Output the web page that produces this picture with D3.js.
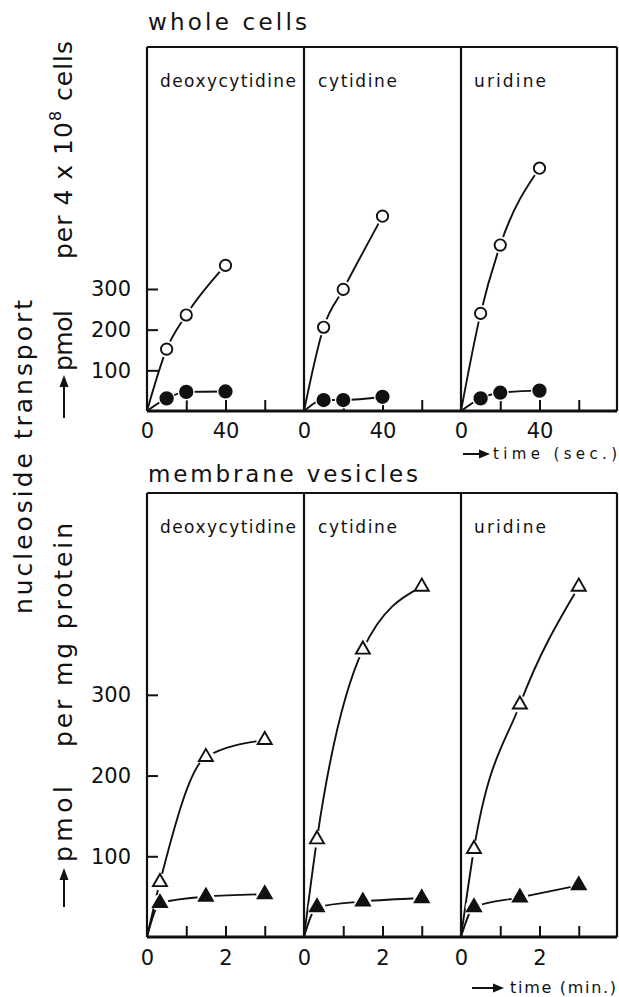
<!DOCTYPE html>
<html>
  <head>
    <style>
      body { margin: 0; background: #fff; }
      text { font-family: "DejaVu Sans", sans-serif; fill: #111; }
    </style>
  </head>
  <body>
    <svg id="chart" width="619" height="997"></svg>

    <script src="https://cdnjs.cloudflare.com/ajax/libs/d3/7.8.5/d3.min.js"></script>
    <script>
      // data
      var nucleosides = ["deoxycytidine", "cytidine", "uridine"];

      var cellTimes = [10, 20, 40]; // sec
      var cellOpen = [
        [152, 236, 358],
        [206, 299, 479],
        [240, 408, 597]
      ];
      var cellFilled = [
        [31, 47, 48],
        [27, 27, 35],
        [31, 45, 50]
      ];

      var vesTimes = [0.33, 1.5, 3]; // min
      var vesOpen = [
        [68, 223, 244],
        [121, 356, 434],
        [109, 288, 434]
      ];
      var vesFilled = [
        [42, 50, 53],
        [37, 44, 48],
        [37, 49, 64]
      ];

      var yTicks = [100, 200, 300];
      var cellXTicks = [0, 20, 40, 60];
      var cellXLabels = [0, 40];
      var vesXTicks = [0, 1, 2, 3];
      var vesXLabels = [0, 2];

      var svg = d3.select("#chart");
      var panelX = [147, 304, 461],
        panelW = 157,
        right = 617;

      var blocks = [
        {
          title: "whole cells", titleY: 30, titleLen: 159,
          y: d3.scaleLinear().domain([0, 895]).range([411, 47]),
          x: d3.scaleLinear().domain([0, 80]).range([0, panelW]),
          times: cellTimes, open: cellOpen, filled: cellFilled,
          xTicks: cellXTicks, xLabels: cellXLabels,
          labelY: 87, labelPad: 12, shape: "circle"
        },
        {
          title: "membrane vesicles", titleY: 482, titleLen: 270,
          y: d3.scaleLinear().domain([0, 550]).range([937, 493]),
          x: d3.scaleLinear().domain([0, 4]).range([0, panelW]),
          times: vesTimes, open: vesOpen, filled: vesFilled,
          xTicks: vesXTicks, xLabels: vesXLabels,
          labelY: 533, labelPad: 13, shape: "triangle"
        }
      ];

      var labelLen = [136, 79, 72];
      var labelOff = [13, 14, 13];

      blocks.forEach(function (b) {
        var y0 = b.y.range()[0],
          y1 = b.y.range()[1];

        svg.append("text")
          .attr("x", 148).attr("y", b.titleY)
          .attr("font-size", 23)
          .attr("textLength", b.titleLen)
          .attr("lengthAdjust", "spacing")
          .text(b.title);

        // frame
        svg.append("path")
          .attr("d", "M" + panelX[0] + "," + y1 + "H" + right)
          .attr("stroke", "#111").attr("stroke-width", 2).attr("fill", "none");
        panelX.concat([right]).forEach(function (px) {
          svg.append("line")
            .attr("x1", px).attr("x2", px).attr("y1", y1).attr("y2", y0)
            .attr("stroke", "#111").attr("stroke-width", 2.2);
        });
        svg.append("line")
          .attr("x1", panelX[0]).attr("x2", right).attr("y1", y0).attr("y2", y0)
          .attr("stroke", "#111").attr("stroke-width", 2.8);

        // y axis on first panel
        var yAxis = d3.axisLeft(b.y).tickValues(yTicks)
          .tickSizeInner(-11).tickSizeOuter(0).tickPadding(16);
        var gy = svg.append("g")
          .attr("transform", "translate(" + panelX[0] + ",0)")
          .call(yAxis);
        gy.select(".domain").remove();
        gy.selectAll("line").attr("stroke", "#111").attr("stroke-width", 2);
        gy.selectAll("text").attr("font-size", 21).attr("fill", "#111")
          .attr("font-family", "DejaVu Sans, sans-serif");

        nucleosides.forEach(function (name, i) {
          var g = svg.append("g")
            .attr("transform", "translate(" + panelX[i] + ",0)");

          var xAxis = d3.axisBottom(b.x).tickValues(b.xTicks)
            .tickSizeInner(-11).tickSizeOuter(0).tickPadding(b.labelPad)
            .tickFormat(function (d) {
              return b.xLabels.indexOf(d) >= 0 ? d : "";
            });
          var gx = g.append("g")
            .attr("transform", "translate(0," + y0 + ")")
            .call(xAxis);
          gx.select(".domain").remove();
          gx.selectAll("line").attr("stroke", "#111").attr("stroke-width", 2)
            .filter(function (d) { return d === 0; }).remove();
          gx.selectAll("text").attr("font-size", 21).attr("fill", "#111")
            .attr("font-family", "DejaVu Sans, sans-serif");

          g.append("text")
            .attr("x", labelOff[i]).attr("y", b.labelY)
            .attr("font-size", 17)
            .attr("textLength", labelLen[i])
            .attr("lengthAdjust", "spacing")
            .text(name);

          var line = d3.line()
            .x(function (d) { return b.x(d[0]); })
            .y(function (d) { return b.y(d[1]); })
            .curve(d3.curveMonotoneX);

          [
            { vals: b.open[i], filled: false },
            { vals: b.filled[i], filled: true }
          ].forEach(function (s) {
            var pts = [[0, 0]].concat(b.times.map(function (t, k) {
              return [t, s.vals[k]];
            }));
            g.append("path")
              .attr("d", line(pts))
              .attr("fill", "none")
              .attr("stroke", "#111")
              .attr("stroke-width", 1.9);

            var sym = d3.symbol()
              .type(b.shape === "circle" ? d3.symbolCircle : d3.symbolTriangle);

            var m = g.selectAll(null)
              .data(pts.slice(1))
              .enter()
              .append("g")
              .attr("transform", function (d) {
                return "translate(" + b.x(d[0]) + "," + b.y(d[1]) + ")";
              });
            m.append("circle")
              .attr("r", 8.5)
              .attr("fill", "#fff");
            m.append("path")
              .attr("d", sym.size(b.shape === "circle" ? (s.filled ? 120 : 100) : 85)())
              .attr("fill", s.filled ? "#111" : "#fff")
              .attr("stroke", "#111")
              .attr("stroke-width", 1.9);
          });
        });
      });

      // time labels with arrows
      function arrow(x1, x2, y) {
        svg.append("line")
          .attr("x1", x1).attr("x2", x2 - 8).attr("y1", y).attr("y2", y)
          .attr("stroke", "#111").attr("stroke-width", 2);
        svg.append("path")
          .attr("d", "M" + x2 + "," + y + "L" + (x2 - 11) + "," + (y - 4.5) + "L" + (x2 - 11) + "," + (y + 4.5) + "Z")
          .attr("fill", "#111");
      }
      arrow(463, 490, 454);
      svg.append("text")
        .attr("x", 493).attr("y", 459).attr("font-size", 15)
        .attr("textLength", 124).attr("lengthAdjust", "spacing")
        .text("time (sec.)");
      arrow(472, 504, 988);
      svg.append("text")
        .attr("x", 510).attr("y", 993).attr("font-size", 16)
        .attr("textLength", 106).attr("lengthAdjust", "spacing")
        .text("time (min.)");

      // vertical titles
      function vtext(x, yStart, len, size, str) {
        svg.append("text")
          .attr("transform", "translate(" + x + "," + yStart + ") rotate(-90)")
          .attr("font-size", size)
          .attr("textLength", len)
          .attr("lengthAdjust", "spacing")
          .text(str);
      }
      function varrow(x, y1, y2) {
        svg.append("line")
          .attr("x1", x).attr("x2", x).attr("y1", y1).attr("y2", y2 + 8)
          .attr("stroke", "#111").attr("stroke-width", 2);
        svg.append("path")
          .attr("d", "M" + x + "," + y2 + "L" + (x - 4.5) + "," + (y2 + 12) + "L" + (x + 4.5) + "," + (y2 + 12) + "Z")
          .attr("fill", "#111");
      }
      vtext(32, 614, 314, 25, "nucleoside  transport");

      varrow(64, 418, 375);
      vtext(72, 371, 61, 25, "pmol");
      var t = svg.append("text")
        .attr("transform", "translate(72,259) rotate(-90)")
        .attr("font-size", 25)
        .attr("letter-spacing", 1);
      t.append("tspan").text("per  4 x 10");
      t.append("tspan").attr("dy", -11).attr("font-size", 16).text("8");
      t.append("tspan").attr("dy", 11).text(" cells");

      varrow(64, 907, 868);
      vtext(72, 862, 76, 25, "pmol");
      vtext(72, 747, 224, 25, "per  mg  protein");
    </script>
  </body>
</html>
